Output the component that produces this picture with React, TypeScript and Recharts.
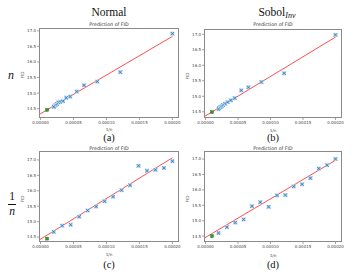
import { ComposedChart, Line, Scatter, XAxis, YAxis } from "recharts";

const X_TICKS = [0, 0.00005, 0.0001, 0.00015, 0.0002];
const Y_TICKS = [14.5, 15.0, 15.5, 16.0, 16.5, 17.0];
const X_DOMAIN = [-0.0000023, 0.00021];
const FIT_X = [-0.0000023, 0.0002];
const TARGET_X = 0.00001;

// top row: samples linear in n
const ROW_N_X = [
  0.0002, 0.000121, 0.000086, 0.000066, 0.000055, 0.000045, 0.000039,
  0.000034, 0.00003, 0.000027, 0.000025, 0.000023, 0.000021, 0.00002,
];
const A_Y = [16.91, 15.67, 15.37, 15.25, 15.05, 14.89, 14.85, 14.74, 14.72, 14.7, 14.65, 14.61, 14.57, 14.56];
const B_Y = [16.98, 15.74, 15.46, 15.29, 15.19, 14.94, 14.87, 14.81, 14.76, 14.72, 14.68, 14.65, 14.62, 14.59];

// bottom row: samples linear in 1/n
const ROW_INV_X = [
  0.00002, 0.0000329, 0.0000457, 0.0000586, 0.0000714, 0.0000843, 0.0000971,
  0.00011, 0.0001229, 0.0001357, 0.0001486, 0.0001614, 0.0001743, 0.0001871, 0.0002,
];
const C_Y = [14.67, 14.87, 14.9, 15.16, 15.36, 15.49, 15.66, 15.81, 16.02, 16.18, 16.81, 16.65, 16.68, 16.74, 16.96];
const D_Y = [14.6, 14.79, 14.94, 15.04, 15.47, 15.6, 15.45, 15.82, 15.83, 16.11, 16.18, 16.38, 16.69, 16.8, 17.0];

const FIT_A = [14.31, 16.82];
const FIT_B = [14.34, 16.91];
const FIT_C = [14.4, 17.07];
const FIT_D = [14.43, 16.96];

const TARGET_Y = [14.46, 14.49, 14.45, 14.5];

const SANS = "'DejaVu Sans', sans-serif";
const SERIF = "'Liberation Serif', 'DejaVu Serif', serif";

const YW = 20;
const MT = 2;
const MR = 2;
const XH = 10;

const XMark = (p: any) => {
  const { cx, cy } = p;
  const s = 1.6;
  return (
    <g>
      <rect x={cx - 2} y={cy - 2} width={4} height={4} fill="#b9d4ee" />
      <path
        d={`M${cx - s},${cy - s}L${cx + s},${cy + s}M${cx - s},${cy + s}L${cx + s},${cy - s}`}
        stroke="#1f77b4"
        strokeWidth={0.8}
      />
    </g>
  );
};

const Dot = (p: any) => (
  <rect x={p.cx - 1.5} y={p.cy - 1.5} width={3} height={3} fill="#2a9a2a" stroke="#226b22" strokeWidth={0.4} />
);

const txt = (x: number, y: number, extra: any = {}): any => ({
  position: "absolute",
  left: x,
  top: y,
  transform: "translate(-50%, -50%)",
  whiteSpace: "nowrap",
  lineHeight: 1,
  ...extra,
});

type PanelProps = {
  l: number;
  r: number;
  t: number;
  b: number;
  xs: number[];
  ys: number[];
  fit: number[];
  target: number;
  yDomain: number[];
  titleY: number;
  xLabelY: number;
  caption: string;
  capY: number;
};

function Panel(p: PanelProps) {
  const pts = p.xs.map((x, i) => ({ x, y: p.ys[i] }));
  const fit = FIT_X.map((x, i) => ({ x, y: p.fit[i] }));
  const tgt = [{ x: TARGET_X, y: p.target }];
  const cx = (p.l + p.r) / 2;
  const tick = { fontSize: 4, fill: "#444", fontFamily: SANS };
  return (
    <>
      <div style={{ position: "absolute", left: p.l - YW, top: p.t - MT }}>
        <ComposedChart
          width={p.r - p.l + YW + MR}
          height={p.b - p.t + MT + XH}
          margin={{ top: MT, right: MR, bottom: 0, left: 0 }}
        >
          <XAxis
            dataKey="x"
            type="number"
            domain={X_DOMAIN}
            allowDataOverflow
            ticks={X_TICKS}
            tickFormatter={(v: number) => v.toFixed(5)}
            tick={tick}
            tickSize={2}
            tickMargin={1}
            tickLine={{ stroke: "#666", strokeWidth: 0.6 }}
            axisLine={false}
            height={XH}
            interval={0}
          />
          <YAxis
            dataKey="y"
            type="number"
            domain={p.yDomain}
            allowDataOverflow
            ticks={Y_TICKS}
            tickFormatter={(v: number) => v.toFixed(1)}
            tick={tick}
            tickSize={2}
            tickMargin={1}
            tickLine={{ stroke: "#666", strokeWidth: 0.6 }}
            axisLine={false}
            width={YW}
            interval={0}
          />
          <Scatter data={pts} shape={XMark} isAnimationActive={false} />
          <Scatter data={tgt} shape={Dot} isAnimationActive={false} />
          <Line
            data={fit}
            dataKey="y"
            type="linear"
            stroke="#ff3a3a"
            strokeWidth={0.9}
            dot={false}
            activeDot={false}
            isAnimationActive={false}
          />
        </ComposedChart>
      </div>
      <div
        style={{
          position: "absolute",
          left: p.l,
          top: p.t,
          width: p.r - p.l,
          height: p.b - p.t,
          border: "0.8px solid #8a8a8a",
          boxSizing: "border-box",
          pointerEvents: "none",
        }}
      />
      <div style={txt(cx, p.titleY, { fontFamily: SANS, fontSize: 4.8, color: "#333" })}>Prediction of FID</div>
      <div style={txt(cx, p.xLabelY, { fontFamily: SANS, fontSize: 4.2, color: "#444" })}>1/n</div>
      <div
        style={txt(p.l - 16, (p.t + p.b) / 2 + 2, {
          fontFamily: SANS,
          fontSize: 4.2,
          color: "#444",
          transform: "translate(-50%, -50%) rotate(-90deg)",
        })}
      >
        FID
      </div>
      <div style={txt(cx, p.capY, { fontFamily: SERIF, fontSize: 10.5, color: "#111" })}>{p.caption}</div>
    </>
  );
}

export default function App() {
  return (
    <div style={{ position: "absolute", left: 0, top: 0, width: 360, height: 276, background: "#fff", overflow: "hidden" }}>
      <div style={txt(109, 12.7, { fontFamily: SERIF, fontSize: 11.5, color: "#111" })}>Normal</div>
      <div style={txt(277, 12.7, { fontFamily: SERIF, fontSize: 11.5, color: "#111" })}>
        Sobol
        <span style={{ fontStyle: "italic", fontSize: 8, position: "relative", top: 2.5 }}>Inv</span>
      </div>
      <div style={txt(11, 75, { fontFamily: SERIF, fontSize: 12, fontStyle: "italic", color: "#111" })}>n</div>
      <div style={txt(12, 196.5, { fontFamily: SERIF, fontSize: 11.5, color: "#111" })}>1</div>
      <div style={{ position: "absolute", left: 8, top: 204, width: 8, height: 0, borderTop: "1px solid #111" }} />
      <div style={txt(12, 211.5, { fontFamily: SERIF, fontSize: 11.5, fontStyle: "italic", color: "#111" })}>n</div>
      <Panel l={39} r={179} t={28} b={118} xs={ROW_N_X} ys={A_Y} fit={FIT_A} target={TARGET_Y[0]}
        yDomain={[14.2, 17.09]} titleY={24.5} xLabelY={130} caption="(a)" capY={138} />
      <Panel l={204} r={342} t={29} b={118} xs={ROW_N_X} ys={B_Y} fit={FIT_B} target={TARGET_Y[1]}
        yDomain={[14.3, 17.17]} titleY={25} xLabelY={131} caption="(b)" capY={138} />
      <Panel l={39} r={179} t={151} b={242} xs={ROW_INV_X} ys={C_Y} fit={FIT_C} target={TARGET_Y[2]}
        yDomain={[14.34, 17.29]} titleY={148.5} xLabelY={255} caption="(c)" capY={265} />
      <Panel l={204} r={342} t={151} b={242} xs={ROW_INV_X} ys={D_Y} fit={FIT_D} target={TARGET_Y[3]}
        yDomain={[14.31, 17.26]} titleY={148.5} xLabelY={255.5} caption="(d)" capY={265} />
    </div>
  );
}
